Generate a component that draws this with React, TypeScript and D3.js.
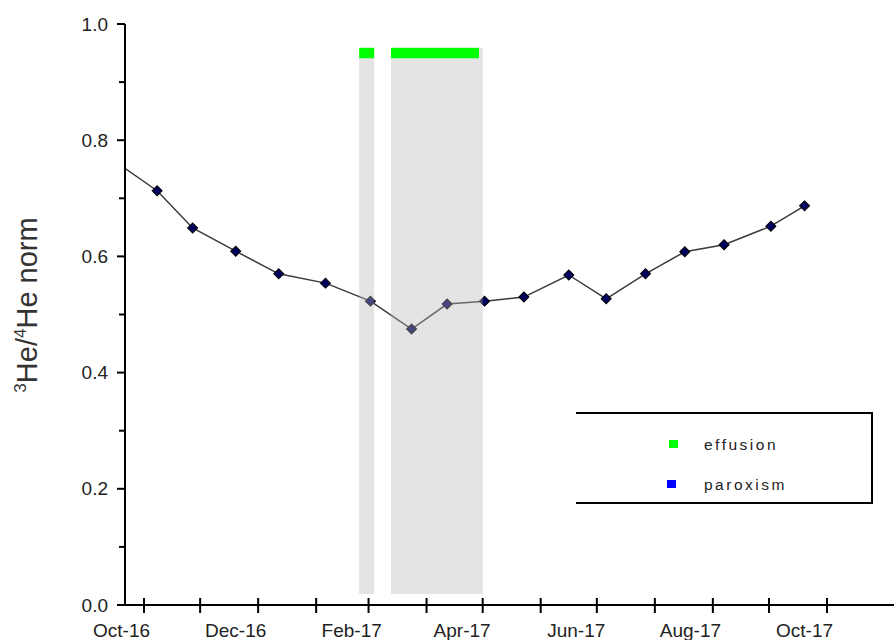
import React from "react";
import * as d3 from "d3";

// sampling dates and normalised 3He/4He values
const sampleDates = [
  "2016-10-18", "2016-11-08", "2016-11-27", "2016-12-20", "2017-01-12",
  "2017-02-06", "2017-03-02", "2017-03-24", "2017-04-12", "2017-05-02",
  "2017-05-23", "2017-06-16", "2017-07-06", "2017-07-27", "2017-08-17",
  "2017-09-07", "2017-10-02", "2017-10-20",
];
const heRatio = [
  0.76, 0.713, 0.649, 0.609, 0.57, 0.554, 0.523, 0.475, 0.518, 0.523,
  0.53, 0.568, 0.527, 0.57, 0.608, 0.62, 0.652, 0.687,
];

// activity periods
const shadeStart = ["2017-02-24", "2017-03-13"];
const shadeEnd = ["2017-03-04", "2017-05-01"];
const effusionStart = ["2017-02-24", "2017-03-13"];
const effusionEnd = ["2017-03-04", "2017-04-29"];

const xLabelMonths = ["2016-10-20", "2016-12-20", "2017-02-20", "2017-04-20", "2017-06-20", "2017-08-20", "2017-10-20"];
const xLabels = ["Oct-16", "Dec-16", "Feb-17", "Apr-17", "Jun-17", "Aug-17", "Oct-17"];
const yTicks = [0, 0.2, 0.4, 0.6, 0.8, 1.0];
const yMinor = [0.1, 0.3, 0.5, 0.7, 0.9];

const legendItems = ["effusion", "paroxism"];
const legendColors = ["#00ff00", "#0000ff"];

const parse = d3.timeParse("%Y-%m-%d");
const font = "'Liberation Sans', Arial, sans-serif";

export default function App() {
  const width = 894;
  const height = 640;
  const left = 125;
  const bottom = 605;

  const x = d3
    .scaleTime()
    .domain([new Date(2016, 10, 1), new Date(2017, 10, 1)])
    .range([144, 827]);
  const y = d3.scaleLinear().domain([0, 1]).range([bottom, 24]);

  const points = sampleDates.map((d, i) => ({ date: parse(d)!, value: heRatio[i] }));
  const line = d3
    .line<{ date: Date; value: number }>()
    .x((d) => x(d.date))
    .y((d) => y(d.value));
  const diamond = d3.symbol(d3.symbolSquare, 50)()!;
  const monthTicks = d3.timeMonth.range(new Date(2016, 10, 1), new Date(2017, 10, 2));

  return (
    <svg
      width={width}
      height={height}
      style={{ position: "absolute", left: 0, top: 0, display: "block", background: "#fff" }}
      fontFamily={font}
    >
      <defs>
        <clipPath id="plotClip">
          <rect x={left} y={0} width={width - left} height={height} />
        </clipPath>
      </defs>

      <g clipPath="url(#plotClip)">
        <path d={line(points)!} fill="none" stroke="#3a3a3a" strokeWidth={1.5} />
        {points.map((p, i) => (
          <path
            key={i}
            d={diamond}
            transform={`translate(${x(p.date)},${y(p.value)}) rotate(45)`}
            fill="#00005e"
            stroke="#000"
            strokeWidth={1}
          />
        ))}
      </g>

      {shadeStart.map((s, i) => (
        <rect
          key={"s" + i}
          x={x(parse(s)!)}
          width={x(parse(shadeEnd[i])!) - x(parse(s)!)}
          y={y(0.959)}
          height={y(0.019) - y(0.959)}
          fill="#b8b8b8"
          fillOpacity={0.38}
        />
      ))}
      {effusionStart.map((s, i) => (
        <rect
          key={"e" + i}
          x={x(parse(s)!)}
          width={x(parse(effusionEnd[i])!) - x(parse(s)!)}
          y={y(0.959)}
          height={y(0.941) - y(0.959)}
          fill="#00ff00"
        />
      ))}

      {/* y axis */}
      <line x1={left} x2={left} y1={y(1)} y2={bottom + 1} stroke="#000" strokeWidth={2} />
      {yTicks.map((t) => (
        <g key={t} transform={`translate(0,${y(t)})`}>
          <line x1={left - 8} x2={left} stroke="#000" strokeWidth={2} />
          <text x={108} dy="0.35em" textAnchor="end" fontSize={19} fill="#222">
            {d3.format(".1f")(t)}
          </text>
        </g>
      ))}
      {yMinor.map((t) => (
        <line key={t} x1={left - 6} x2={left} y1={y(t)} y2={y(t)} stroke="#000" strokeWidth={2} />
      ))}
      <text transform="translate(37,305) rotate(-90)" textAnchor="middle" fontSize={29} fill="#333">
        <tspan fontSize={17} dy="-11">3</tspan>
        <tspan dy="11">He/</tspan>
        <tspan fontSize={17} dy="-11">4</tspan>
        <tspan dy="11">He  norm</tspan>
      </text>

      {/* x axis */}
      <line x1={left} x2={width} y1={bottom} y2={bottom} stroke="#000" strokeWidth={2} />
      {monthTicks.map((m, i) => (
        <line key={i} x1={x(m)} x2={x(m)} y1={bottom - 7} y2={bottom + 8} stroke="#000" strokeWidth={2} />
      ))}
      {xLabelMonths.map((m, i) => (
        <text key={m} x={x(parse(m)!)} y={637} textAnchor="middle" fontSize={19} fill="#222">
          {xLabels[i]}
        </text>
      ))}

      {/* legend */}
      <path d="M576,413H872V503H576" fill="none" stroke="#000" strokeWidth={2} />
      {legendItems.map((name, i) => (
        <g key={name} transform={`translate(0,${444 + i * 40})`}>
          <rect x={669 - i * 2} y={-4} width={9} height={8} fill={legendColors[i]} />
          <text x={704} y={6} fontSize={15.5} letterSpacing={2.5} fill="#222">
            {name}
          </text>
        </g>
      ))}
    </svg>
  );
}
